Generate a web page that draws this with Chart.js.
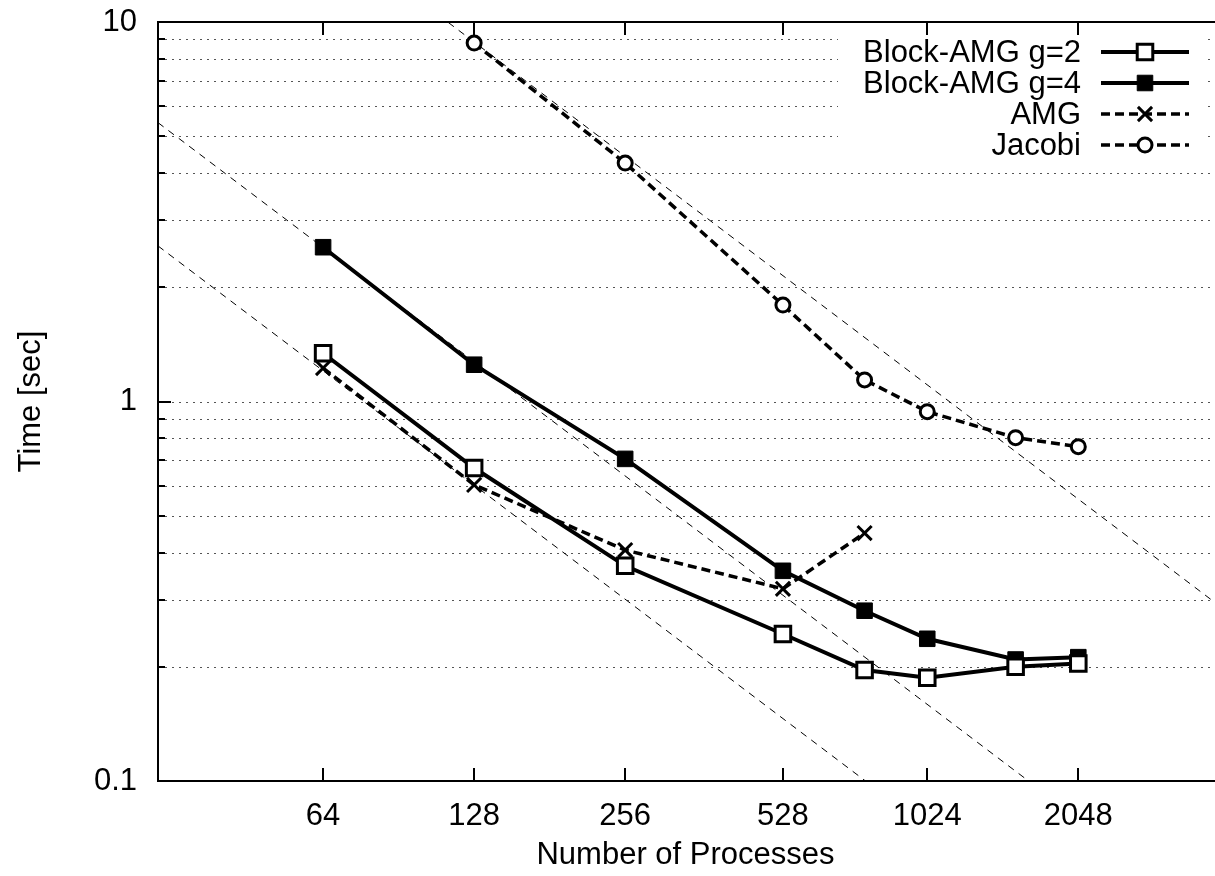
<!DOCTYPE html>
<html>
<head>
<meta charset="utf-8">
<script src="https://cdn.jsdelivr.net/npm/chart.js@4/dist/chart.umd.min.js"></script>
<style>
  html, body { margin: 0; padding: 0; background: #fff; overflow: hidden; width: 1215px; height: 876px; }
  canvas { display: block; }
</style>
</head>
<body>
<canvas id="chart" width="1227" height="876"></canvas>
<script>
var FONT = "'Liberation Sans', Arial, Helvetica, sans-serif";

// number of processes
var procs = [64, 128, 256, 528, 768, 1024, 1536, 2048];
var procsJacobi = [128, 256, 528, 768, 1024, 1536, 2048];
var procsAmg = [64, 128, 256, 528, 768];

// time [sec]
var blockAmgG2 = [1.34, 0.668, 0.369, 0.244, 0.196, 0.187, 0.200, 0.204];
var blockAmgG4 = [2.55, 1.25, 0.706, 0.358, 0.281, 0.237, 0.209, 0.212];
var amg = [1.225, 0.603, 0.406, 0.321, 0.45];
var jacobi = [8.8, 4.25, 1.795, 1.14, 0.94, 0.803, 0.76];

// ideal scaling guide lines (endpoints at x = 30 and x = 3800)
var idealX = [30, 3800];
var idealJacobi = [37.8, 0.298];
var idealG4 = [5.43, 0.0429];
var idealAmg = [2.57, 0.0203];

var xTicks = [64, 128, 256, 528, 1024, 2048];
var yMajor = [0.1, 1, 10];
var yGrid = [0.2, 0.3, 0.4, 0.5, 0.6, 0.7, 0.8, 0.9, 1, 2, 3, 4, 5, 6, 7, 8, 9];

function pts(xs, ys) {
    return xs.map(function (x, i) { return { x: x, y: ys[i] }; });
}

function guide(ys) {
    return {
        label: '', isGuide: true, data: pts(idealX, ys),
        borderColor: '#000', borderWidth: 1, borderDash: [7, 6],
        pointRadius: 0, fill: false, order: 10
    };
}

var gnuplotFrame = {
    id: 'gnuplotFrame',
    beforeDatasetsDraw: function (chart) {
        var ctx = chart.ctx, a = chart.chartArea, y = chart.scales.y;
        ctx.save();
        ctx.strokeStyle = '#555';
        ctx.lineWidth = 1;
        ctx.setLineDash([2, 5]);
        yGrid.forEach(function (v) {
            var py = Math.round(y.getPixelForValue(v)) + 0.5;
            ctx.beginPath();
            ctx.moveTo(a.left, py);
            ctx.lineTo(a.right, py);
            ctx.stroke();
        });
        ctx.setLineDash([]);
        // key box
        ctx.fillStyle = '#fff';
        ctx.fillRect(a.right - 375, a.top + 8, 366, 132);
        ctx.restore();
    },
    afterDatasetsDraw: function (chart) {
        var ctx = chart.ctx, a = chart.chartArea, x = chart.scales.x, y = chart.scales.y;
        ctx.save();
        ctx.strokeStyle = '#000';
        ctx.lineWidth = 2;
        // frame (right side lies past the picture)
        ctx.beginPath();
        ctx.moveTo(a.right + 2, a.top);
        ctx.lineTo(a.left, a.top);
        ctx.lineTo(a.left, a.bottom);
        ctx.lineTo(a.right + 2, a.bottom);
        ctx.stroke();
        // x tick marks, inward on bottom and top
        xTicks.forEach(function (v) {
            var px = Math.round(x.getPixelForValue(v));
            ctx.beginPath();
            ctx.moveTo(px, a.bottom); ctx.lineTo(px, a.bottom - 13);
            ctx.moveTo(px, a.top); ctx.lineTo(px, a.top + 13);
            ctx.stroke();
        });
        // y tick marks
        yMajor.concat(yGrid).forEach(function (v) {
            var py = Math.round(y.getPixelForValue(v));
            var len = yMajor.indexOf(v) >= 0 ? 13 : 7;
            ctx.beginPath();
            ctx.moveTo(a.left, py); ctx.lineTo(a.left + len, py);
            ctx.stroke();
        });
        // key
        var items = chart.data.datasets.filter(function (d) { return !d.isGuide; });
        var textRight = a.right - 132, lineL = a.right - 112, lineR = a.right - 24;
        ctx.font = '31px ' + FONT;
        ctx.textAlign = 'right';
        ctx.textBaseline = 'middle';
        items.forEach(function (d, i) {
            var py = a.top + 30 + i * 31;
            ctx.fillStyle = '#000';
            ctx.fillText(d.label, textRight, py + 1);
            ctx.strokeStyle = '#000';
            ctx.lineWidth = d.borderWidth;
            ctx.setLineDash(d.borderDash || []);
            ctx.beginPath();
            ctx.moveTo(lineL, py); ctx.lineTo(lineR, py);
            ctx.stroke();
            ctx.setLineDash([]);
            ctx.fillStyle = d.pointBackgroundColor;
            ctx.strokeStyle = '#000';
            ctx.lineWidth = d.pointBorderWidth;
            Chart.helpers.drawPoint(ctx, {
                pointStyle: d.pointStyle, radius: d.pointRadius,
                borderWidth: d.pointBorderWidth, rotation: 0
            }, (lineL + lineR) / 2, py);
        });
        ctx.restore();
    }
};

new Chart(document.getElementById('chart').getContext('2d'), {
    type: 'line',
    data: {
        datasets: [{
            label: 'Block-AMG g=2',
            data: pts(procs, blockAmgG2),
            borderColor: '#000', borderWidth: 4,
            pointStyle: 'rect', pointRadius: 11, pointBorderWidth: 3,
            pointBorderColor: '#000', pointBackgroundColor: '#fff',
            order: 1
        }, {
            label: 'Block-AMG g=4',
            data: pts(procs, blockAmgG4),
            borderColor: '#000', borderWidth: 4,
            pointStyle: 'rect', pointRadius: 11, pointBorderWidth: 1,
            pointBorderColor: '#000', pointBackgroundColor: '#000',
            order: 2
        }, {
            label: 'AMG',
            data: pts(procsAmg, amg),
            borderColor: '#000', borderWidth: 3.5, borderDash: [9, 5],
            pointStyle: 'crossRot', pointRadius: 10, pointBorderWidth: 3,
            pointBorderColor: '#000', pointBackgroundColor: '#000',
            order: 3
        }, {
            label: 'Jacobi',
            data: pts(procsJacobi, jacobi),
            borderColor: '#000', borderWidth: 3.5, borderDash: [9, 5],
            pointStyle: 'circle', pointRadius: 7, pointBorderWidth: 3,
            pointBorderColor: '#000', pointBackgroundColor: '#fff',
            order: 4
        },
        guide(idealJacobi),
        guide(idealG4),
        guide(idealAmg)]
    },
    options: {
        responsive: false,
        animation: false,
        events: [],
        layout: { padding: { top: 22, right: 0, left: 0, bottom: 0 } },
        elements: { line: { tension: 0 } },
        plugins: {
            legend: { display: false },
            tooltip: { enabled: false }
        },
        scales: {
            x: {
                type: 'logarithmic',
                min: 30,
                max: 3800,
                grid: { display: false, drawTicks: false },
                border: { display: false },
                afterBuildTicks: function (s) {
                    s.ticks = xTicks.map(function (v) { return { value: v }; });
                },
                afterFit: function (s) {
                    s.height = 95;
                    s.paddingLeft = 0;
                    s.paddingRight = 0;
                },
                ticks: {
                    autoSkip: false, maxRotation: 0, padding: 17,
                    color: '#000', font: { family: FONT, size: 31 },
                    callback: function (v) { return String(v); }
                },
                title: {
                    display: true, text: 'Number of Processes', color: '#000',
                    font: { family: FONT, size: 31 }, padding: { top: 0, bottom: 2 }
                }
            },
            y: {
                type: 'logarithmic',
                min: 0.1,
                max: 10,
                grid: { display: false, drawTicks: false },
                border: { display: false },
                afterBuildTicks: function (s) {
                    s.ticks = yMajor.map(function (v) { return { value: v }; });
                },
                afterFit: function (s) {
                    s.width = 158;
                    s.paddingTop = 0;
                    s.paddingBottom = 0;
                },
                ticks: {
                    autoSkip: false, padding: 21,
                    color: '#000', font: { family: FONT, size: 31 },
                    callback: function (v) { return String(v); }
                },
                title: {
                    display: true, text: 'Time [sec]', color: '#000',
                    font: { family: FONT, size: 31 }, padding: { top: 13, bottom: 0 }
                }
            }
        }
    },
    plugins: [gnuplotFrame]
});
</script>
</body>
</html>
